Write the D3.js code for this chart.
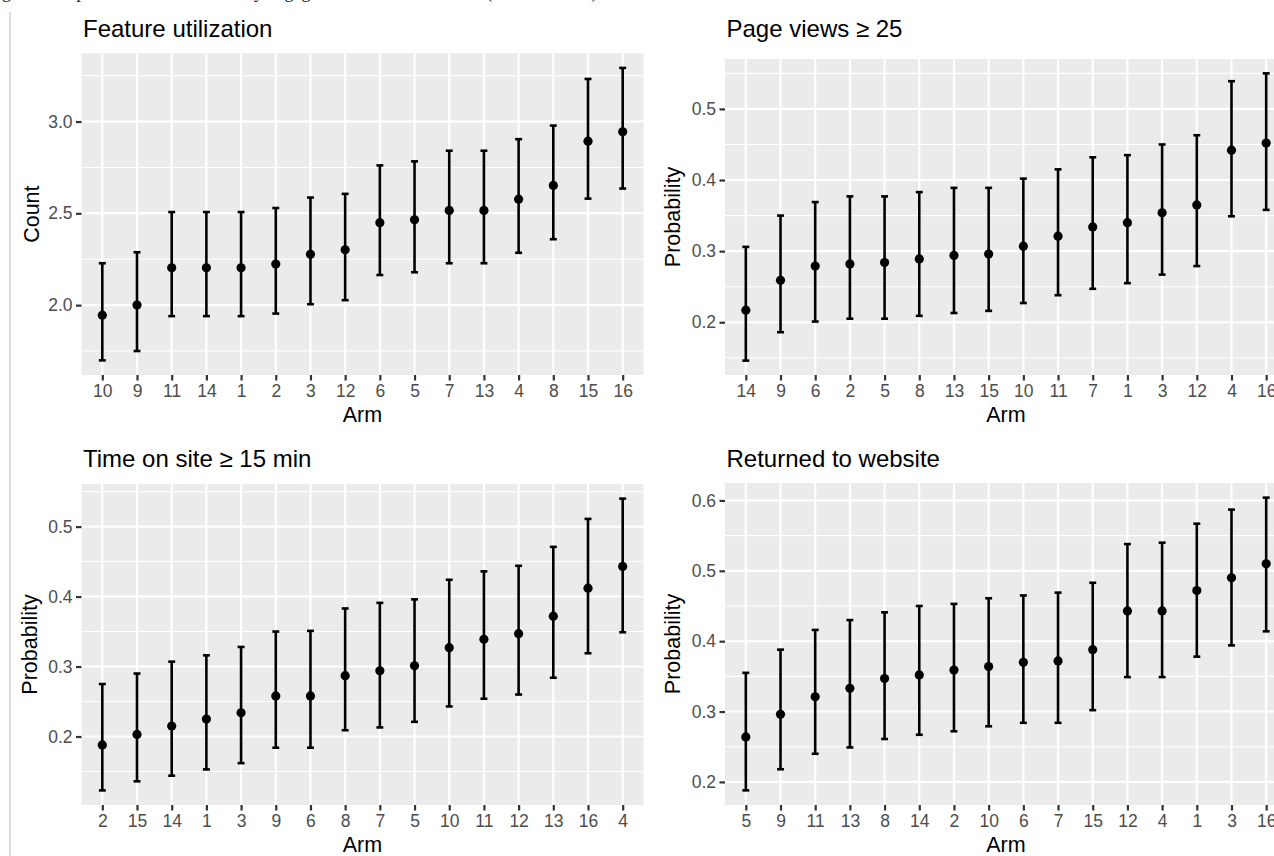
<!DOCTYPE html>
<html>
<head>
<meta charset="utf-8">
<script src="https://cdn.jsdelivr.net/npm/d3@7"></script>
<style>
  body { margin: 0; background: #fff; }
  svg { display: block; font-family: "Liberation Sans", Arial, sans-serif; }
</style>
</head>
<body>
<script>
// Feature utilization
const armsFeature = ['10','9','11','14','1','2','3','12','6','5','7','13','4','8','15','16'];
const meanFeature = [1.945,2.000,2.203,2.203,2.203,2.224,2.277,2.301,2.449,2.465,2.516,2.516,2.577,2.652,2.893,2.944];
const lowFeature  = [1.699,1.750,1.940,1.940,1.940,1.954,2.005,2.027,2.164,2.179,2.228,2.228,2.285,2.359,2.580,2.635];
const highFeature = [2.228,2.288,2.507,2.507,2.507,2.529,2.586,2.606,2.761,2.783,2.841,2.841,2.904,2.978,3.232,3.292];
const ticksFeature = [2.0, 2.5, 3.0];

// Page views >= 25
const armsPage = ['14','9','6','2','5','8','13','15','10','11','7','1','3','12','4','16'];
const meanPage = [0.217,0.259,0.279,0.282,0.284,0.289,0.294,0.296,0.307,0.321,0.334,0.340,0.354,0.365,0.442,0.452];
const lowPage  = [0.146,0.186,0.201,0.205,0.205,0.209,0.213,0.216,0.227,0.238,0.247,0.255,0.267,0.279,0.349,0.358];
const highPage = [0.306,0.350,0.369,0.377,0.377,0.383,0.389,0.389,0.402,0.415,0.432,0.435,0.450,0.463,0.539,0.550];
const ticksPage = [0.2, 0.3, 0.4, 0.5];

// Time on site >= 15 min
const armsTime = ['2','15','14','1','3','9','6','8','7','5','10','11','12','13','16','4'];
const meanTime = [0.188,0.203,0.215,0.225,0.234,0.258,0.258,0.287,0.294,0.301,0.327,0.339,0.347,0.372,0.412,0.443];
const lowTime  = [0.123,0.136,0.144,0.153,0.162,0.184,0.184,0.209,0.213,0.221,0.243,0.254,0.260,0.284,0.319,0.349];
const highTime = [0.275,0.290,0.307,0.316,0.328,0.350,0.351,0.383,0.391,0.396,0.424,0.436,0.444,0.471,0.511,0.540];
const ticksTime = [0.2, 0.3, 0.4, 0.5];

// Returned to website
const armsReturn = ['5','9','11','13','8','14','2','10','6','7','15','12','4','1','3','16'];
const meanReturn = [0.264,0.296,0.321,0.333,0.347,0.352,0.359,0.364,0.370,0.372,0.388,0.443,0.443,0.472,0.490,0.510];
const lowReturn  = [0.188,0.218,0.240,0.249,0.261,0.267,0.272,0.279,0.284,0.284,0.302,0.349,0.349,0.378,0.394,0.414];
const highReturn = [0.355,0.388,0.416,0.430,0.441,0.450,0.453,0.461,0.465,0.469,0.483,0.538,0.540,0.567,0.587,0.604];
const ticksReturn = [0.2, 0.3, 0.4, 0.5, 0.6];

const svg = d3.select('body').append('svg')
	.attr('width', 1274)
	.attr('height', 856);

// caption of the page above, cut off at the top
svg.append('text')
	.attr('x', -13)
	.attr('y', -2.5)
	.style('font-family', '"Liberation Serif", "Times New Roman", serif')
	.style('font-size', '18px')
	.style('fill', '#222')
	.text('Figure 2. Expected outcome values by engagement measure and arm (with 95% CIs).');

// page margin line
svg.append('line')
	.attr('x1', 10).attr('x2', 10)
	.attr('y1', 12).attr('y2', 856)
	.style('stroke', '#d0d0d0')
	.style('stroke-width', 1.5);

function drawPanel(p) {
	let lo = d3.min(p.low), hi = d3.max(p.high);
	let pad = (hi - lo) * 0.05;

	let y = d3.scaleLinear()
		.domain([lo - pad, hi + pad])
		.range([p.bottom, p.top]);

	let x = d3.scalePoint()
		.domain(p.arms)
		.range([p.left, p.right])
		.padding(0.6);

	let g = svg.append('g');

	g.append('rect')
		.attr('x', p.left)
		.attr('y', p.top)
		.attr('width', p.right - p.left)
		.attr('height', p.bottom - p.top)
		.style('fill', '#ebebeb');

	// minor breaks half way between the major ones
	let step = p.ticks[1] - p.ticks[0];
	let minor = [p.ticks[0] - step / 2].concat(p.ticks.map(t => t + step / 2))
		.filter(v => v >= y.domain()[0] && v <= y.domain()[1]);

	g.selectAll('.minor')
		.data(minor)
		.enter()
		.append('line')
		.attr('x1', p.left).attr('x2', p.right)
		.attr('y1', d => y(d)).attr('y2', d => y(d))
		.style('stroke', '#fff')
		.style('stroke-width', 1.1);

	g.selectAll('.major')
		.data(p.ticks)
		.enter()
		.append('line')
		.attr('x1', p.left).attr('x2', p.right)
		.attr('y1', d => y(d)).attr('y2', d => y(d))
		.style('stroke', '#fff')
		.style('stroke-width', 2.1);

	g.selectAll('.vgrid')
		.data(p.arms)
		.enter()
		.append('line')
		.attr('x1', d => x(d)).attr('x2', d => x(d))
		.attr('y1', p.top).attr('y2', p.bottom)
		.style('stroke', '#fff')
		.style('stroke-width', 2.1);

	let rows = p.arms.map((a, i) => ({arm: a, mean: p.mean[i], low: p.low[i], high: p.high[i]}));
	let capW = x.step() * 0.1;

	let bars = g.selectAll('.bar')
		.data(rows)
		.enter()
		.append('g');

	bars.append('line')
		.attr('x1', d => x(d.arm)).attr('x2', d => x(d.arm))
		.attr('y1', d => y(d.low)).attr('y2', d => y(d.high))
		.style('stroke', '#000')
		.style('stroke-width', 2.6);

	bars.selectAll('.cap')
		.data(d => [[d.arm, d.low], [d.arm, d.high]])
		.enter()
		.append('line')
		.attr('x1', d => x(d[0]) - capW).attr('x2', d => x(d[0]) + capW)
		.attr('y1', d => y(d[1])).attr('y2', d => y(d[1]))
		.style('stroke', '#000')
		.style('stroke-width', 2.6);

	bars.append('circle')
		.attr('cx', d => x(d.arm))
		.attr('cy', d => y(d.mean))
		.attr('r', 4.6)
		.style('fill', '#000');

	let xAxis = g.append('g')
		.attr('transform', 'translate(0,' + p.bottom + ')')
		.call(d3.axisBottom(x).tickSize(5.5).tickPadding(4.5));

	let yAxis = g.append('g')
		.attr('transform', 'translate(' + p.left + ',0)')
		.call(d3.axisLeft(y).tickValues(p.ticks).tickFormat(d3.format('.1f')).tickSize(5.5).tickPadding(3.5));

	[xAxis, yAxis].forEach(a => {
		a.select('.domain').remove();
		a.selectAll('line').style('stroke', '#333').style('stroke-width', 2.2);
		a.selectAll('text')
			.style('fill', '#4d4d4d')
			.style('font-size', '17.5px')
			.style('font-family', '"Liberation Sans", Arial, sans-serif');
	});

	g.append('text')
		.attr('x', p.left + 1.5)
		.attr('y', p.titleY)
		.style('font-size', '24px')
		.style('fill', '#000')
		.text(p.title);

	g.append('text')
		.attr('x', (p.left + p.right) / 2)
		.attr('y', p.bottom + 46.5)
		.attr('text-anchor', 'middle')
		.style('font-size', '21.5px')
		.style('fill', '#000')
		.text('Arm');

	g.append('text')
		.attr('transform', 'translate(' + p.yTitleX + ',' + (p.top + p.bottom) / 2 + ') rotate(-90)')
		.attr('text-anchor', 'middle')
		.style('font-size', '21.5px')
		.style('fill', '#000')
		.text(p.yTitle);
}

drawPanel({title: 'Feature utilization', yTitle: 'Count', arms: armsFeature, mean: meanFeature,
	low: lowFeature, high: highFeature, ticks: ticksFeature,
	left: 81.5, right: 643.5, top: 53.3, bottom: 375, titleY: 36.7, yTitleX: 39});

drawPanel({title: 'Page views \u2265 25', yTitle: 'Probability', arms: armsPage, mean: meanPage,
	low: lowPage, high: highPage, ticks: ticksPage,
	left: 725, right: 1287, top: 59, bottom: 375, titleY: 36.7, yTitleX: 680});

drawPanel({title: 'Time on site \u2265 15 min', yTitle: 'Probability', arms: armsTime, mean: meanTime,
	low: lowTime, high: highTime, ticks: ticksTime,
	left: 81.5, right: 643.5, top: 484, bottom: 805, titleY: 466.7, yTitleX: 37});

drawPanel({title: 'Returned to website', yTitle: 'Probability', arms: armsReturn, mean: meanReturn,
	low: lowReturn, high: highReturn, ticks: ticksReturn,
	left: 725, right: 1287, top: 483, bottom: 805, titleY: 466.7, yTitleX: 680});
</script>
</body>
</html>
